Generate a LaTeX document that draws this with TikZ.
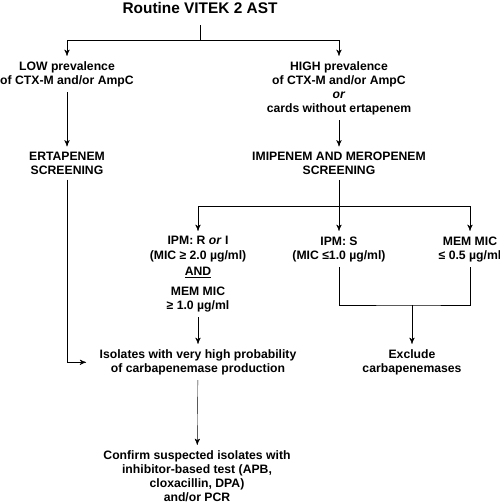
\documentclass[tikz,border=0pt]{standalone}
\usepackage{fontspec}
\setmainfont{Liberation Sans}
\usetikzlibrary{arrows, positioning}

\begin{document}
\begin{tikzpicture}[x=1pt, y=-1pt]
	\tikzset {->, >=stealth', line width=1.5pt,
		every node/.style={align=center, inner sep=0pt, outer sep=5pt, font=\fontsize{12.2}{14.2}\selectfont\bfseries},
		title/.style={font=\fontsize{15.4}{17}\selectfont\bfseries} }
	\useasboundingbox (0,0) rectangle (500,503);

	\node[title] (vitek) at (200,7.5) {Routine VITEK 2 AST};
	\node[anchor=north] (low) at (67,56.5) {LOW prevalence\\of CTX-M and/or AmpC};
	\node[anchor=north] (high) at (339,56.5) {HIGH prevalence\\of CTX-M and/or AmpC\\\textit{or}\\cards without ertapenem};
	\node[anchor=north] (erta) at (67,147) {ERTAPENEM\\SCREENING};
	\node[anchor=north] (imimero) at (339,147) {IMIPENEM AND MEROPENEM\\SCREENING};
	\node[anchor=north] (ipmri) at (198,231.5) {IPM: R \textit{or} I\\(MIC ≥ 2.0 µg/ml)\\[2.5pt]\underline{AND}\\[5.5pt]MEM MIC\\≥ 1.0 µg/ml};
	\node[anchor=north] (ipms) at (339,231.5) {IPM: S\\(MIC ≤1.0 µg/ml)};
	\node[anchor=north] (memlow) at (470,231.5) {MEM MIC\\≤ 0.5 µg/ml};
	\node[anchor=north] (isolates) at (198,344.5) {Isolates with very high probability\\of carbapenemase production};
	\node[anchor=north] (exclude) at (412,344.5) {Exclude\\carbapenemases};
	\node[anchor=north] (confirm) at (197,445.5) {Confirm suspected isolates with\\inhibitor-based test (APB,\\cloxacillin, DPA)\\and/or PCR};

	\coordinate (split1) at (200,40);
	\coordinate (split2) at (339,206);
	\coordinate (join) at (412,305);

	\draw[-] ([yshift=-7pt]vitek.south) -- (split1);
	\draw (split1) -| (low);
	\draw (split1) -| (high);
	\draw (low) -- (erta);
	\draw (high) -- (imimero);
	\draw[-] (imimero) -- (split2);
	\draw (split2) -| (ipmri);
	\draw (split2) -- (ipms);
	\draw (split2) -| (memlow);
	\draw[-] (ipms) |- (join) -| (memlow);
	\draw (join) -- (exclude);
	\draw (erta) |- ([xshift=-8pt]isolates.west);
	\draw (ipmri) -- (isolates);
	\draw (isolates) -- (confirm);
\end{tikzpicture}
\end{document}
